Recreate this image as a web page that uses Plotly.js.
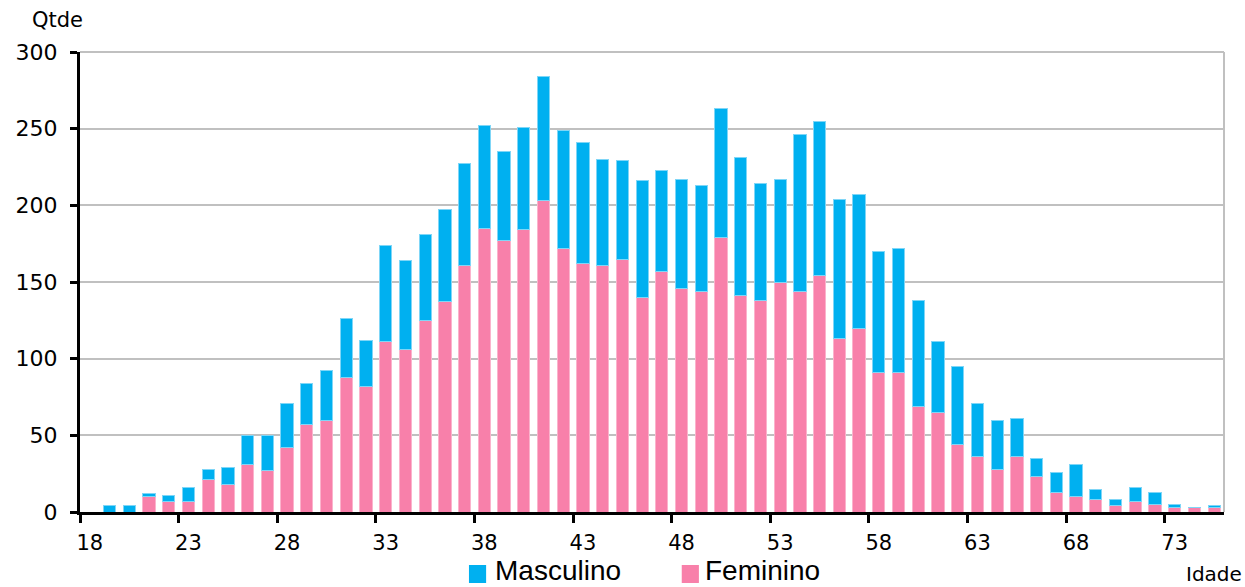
<!DOCTYPE html>
<html>
<head>
<meta charset="utf-8">
<script src="https://cdn.plot.ly/plotly-3.0.1.min.js"></script>
<style>html,body{margin:0;padding:0;background:#fff;}#chart{width:1245px;height:587px;}</style>
</head>
<body>
<div id="chart"></div>
<script>
const idades = ["18","19","20","21","22","23","24","25","26","27","28","29","30","31","32","33","34","35","36","37","38","39","40","41","42","43","44","45","46","47","48","49","50","51","52","53","54","55","56","57","58","59","60","61","62","63","64","65","66","67","68","69","70","71","72","73","74","75"];
const feminino = [0,0,0,10,7,7,21,18,31,27,42,57,60,88,82,111,106,125,137,161,185,177,184,203,172,162,161,165,140,157,146,144,179,141,138,150,144,154,113,120,91,91,69,65,44,36,28,36,23,13,10,8,4,7,5,3,3,3];
const masculino = [0,4,4,2,4,9,7,11,19,23,29,27,32,38,30,63,58,56,60,66,67,58,67,81,77,79,69,64,76,66,71,69,84,90,76,67,102,101,91,87,79,81,69,46,51,35,32,25,12,13,21,7,4,9,8,2,0,1];
const serieNomes = ["Feminino","Masculino"];
const cores = ["#F880AA","#00B0F0"];
const linhas = ["#FBB3CC","#7FD6F7"];

const tickFontY = {family:"DejaVu Sans, sans-serif", size:22, color:"#000"};
const tickFontX = {family:"DejaVu Sans, sans-serif", size:21, color:"#000"};
const traces = [feminino, masculino].map((vals,i)=>({
  type:"bar", x:idades, y:vals, name:serieNomes[i],
  marker:{color:cores[i], line:{color:linhas[i], width:1}},
  hoverinfo:"x+y+name", showlegend:false
}));

// manual legend (order: Masculino, Feminino)
const legendItems = [
  {name:"Masculino", color:cores[1], x0:0.340, x1:0.355, tx:0.3628},
  {name:"Feminino",  color:cores[0], x0:0.526, x1:0.541, tx:0.5463}
];
const legShapes = legendItems.map(it=>({type:"rect", xref:"paper", yref:"paper",
  x0:it.x0, x1:it.x1, y0:-0.1543, y1:-0.1152, fillcolor:it.color, line:{width:0}}));
const legAnn = legendItems.map(it=>({text:it.name, xref:"paper", yref:"paper", x:it.tx, y:-0.1615,
  xanchor:"left", yanchor:"bottom", showarrow:false, borderpad:0, borderwidth:0,
  font:{family:"Liberation Sans, Arial, sans-serif", size:28, color:"#000"}}));

const layout = {
  width:1245, height:587,
  margin:{l:80, r:21, t:52, b:75},
  paper_bgcolor:"#fff", plot_bgcolor:"#fff",
  barmode:"stack", bargap:0.38,
  showlegend:false,
  xaxis:{type:"category", categoryorder:"array", categoryarray:idades,
         range:[-0.5, idades.length-0.5], automargin:false, tickangle:0,
         tickmode:"linear", tick0:0, dtick:5, tickson:"boundaries",
         ticks:"outside", ticklen:8, tickwidth:3, tickcolor:"#000", ticklabelstandoff:10,
         showline:true, linecolor:"#000", linewidth:3,
         showgrid:false, zeroline:false, tickfont:tickFontX, fixedrange:true},
  yaxis:{range:[0,300], tickmode:"linear", tick0:0, dtick:50, automargin:false,
         ticks:"outside", ticklen:7, tickwidth:3, tickcolor:"#000", ticklabelstandoff:8,
         showline:true, linecolor:"#000", linewidth:3,
         showgrid:true, gridcolor:"#C0C0C0", gridwidth:2, zeroline:false,
         tickfont:tickFontY, fixedrange:true},
  shapes:[
    {type:"line", xref:"paper", yref:"paper", x0:1, x1:1, y0:0, y1:1, line:{color:"#C0C0C0", width:2}},
    {type:"line", xref:"paper", yref:"paper", x0:0, x1:1, y0:1, y1:1, line:{color:"#C0C0C0", width:2}}
  ].concat(legShapes),
  annotations:[
    {text:"Qtde", xref:"paper", yref:"paper", x:-0.02, y:1.0, yshift:18, xanchor:"center", yanchor:"bottom",
     showarrow:false, font:{family:"DejaVu Sans, sans-serif", size:21, color:"#000"}},
    {text:"Idade", xref:"paper", yref:"paper", x:1.0157, y:-0.1615, xanchor:"right", yanchor:"bottom",
     showarrow:false, borderpad:0, borderwidth:0, font:{family:"DejaVu Sans, sans-serif", size:20, color:"#000"}}
  ].concat(legAnn)
};
Plotly.newPlot("chart", traces, layout, {displayModeBar:false, staticPlot:true});
</script>
</body>
</html>
